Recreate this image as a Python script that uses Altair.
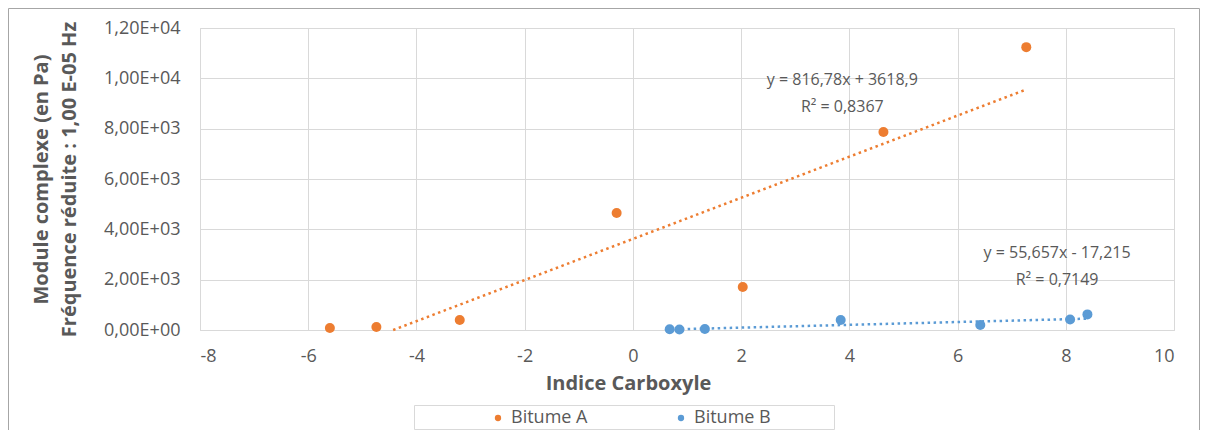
import altair as alt
import pandas as pd

# ---- data ----
series_names = ["Bitume A", "Bitume B"]
a_x = [-5.6, -4.74, -3.2, -0.30, 2.03, 4.63, 7.27]
a_y = [80, 120, 400, 4650, 1710, 7870, 11240]
b_x = [0.68, 0.86, 1.33, 3.84, 6.42, 8.08, 8.40]
b_y = [30, 20, 40, 400, 200, 420, 620]

# trendline coefficients (as printed on the chart)
a_slope, a_intercept = 816.78, 3618.9
b_slope, b_intercept = 55.657, -17.215
a_eq = ["y = 816,78x + 3618,9", "R² = 0,8367"]
b_eq = ["y = 55,657x - 17,215", "R² = 0,7149"]

x_ticks = [-8, -6, -4, -2, 0, 2, 4, 6, 8, 10]
y_ticks = [0, 2000, 4000, 6000, 8000, 10000, 12000]
y_tick_labels = ["0,00E+00", "2,00E+03", "4,00E+03", "6,00E+03",
                 "8,00E+03", "1,00E+04", "1,20E+04"]

ORANGE = "#ED7D31"
BLUE = "#5B9BD5"
GREY_TXT = "#595959"
GRID = "#D9D9D9"
FONT = "Open Sans"

points = pd.DataFrame(
    {"series": [series_names[0]] * len(a_x) + [series_names[1]] * len(b_x),
     "x": a_x + b_x, "y": a_y + b_y}
)

# trendlines: Excel clips at the y-axis minimum (0)
a_start = max(min(a_x), -a_intercept / a_slope)
trend = pd.DataFrame({
    "series": [series_names[0]] * 2 + [series_names[1]] * 2,
    "x": [a_start, max(a_x), min(b_x), max(b_x)],
    "y": [a_slope * a_start + a_intercept, a_slope * max(a_x) + a_intercept,
          b_slope * min(b_x) + b_intercept, b_slope * max(b_x) + b_intercept],
})

annot = pd.DataFrame({
    "text": a_eq + b_eq,
    "ax": [3.87, 3.87, 7.84, 7.84],
    "ay": [9930, 8860, 3060, 1990],
})

color = alt.Color(
    "series:N",
    scale=alt.Scale(domain=series_names, range=[ORANGE, BLUE]),
    legend=alt.Legend(
        title=None, orient="none", direction="horizontal",
        legendX=289, legendY=381, symbolType="circle", symbolSize=40,
        labelFont=FONT, labelFontSize=18, labelColor=GREY_TXT,
        columnPadding=84, symbolStrokeWidth=0,
    ),
)

label_expr = "[" + ",".join(f"'{l}'" for l in y_tick_labels) + "][round(datum.value/2000)]"

x_enc = alt.X(
    "x:Q",
    scale=alt.Scale(domain=[-8, 10], nice=False, zero=False),
    axis=alt.Axis(
        values=x_ticks, title="Indice Carboxyle", grid=True, gridColor=GRID,
        domainColor=GRID, ticks=False, labelPadding=17,
        labelExpr="datum.value < 0 ? '-' + abs(datum.value) : '' + datum.value",
        labelFont=FONT, labelFontSize=18, labelColor=GREY_TXT,
        titleFont=FONT, titleFontSize=20, titleFontWeight="bold",
        titleColor=GREY_TXT, titleX=428, titleY=53, titleBaseline="middle",
    ),
)
y_enc = alt.Y(
    "y:Q",
    scale=alt.Scale(domain=[0, 12000], nice=False),
    axis=alt.Axis(
        values=y_ticks, labelExpr=label_expr, grid=True, gridColor=GRID,
        domain=False, ticks=False, labelPadding=20,
        labelFont=FONT, labelFontSize=18, labelColor=GREY_TXT,
        title=["Module complexe (en Pa)", "Fréquence réduite : 1,00 E-05 Hz"],
        titleFont=FONT, titleFontSize=20, titleFontWeight="bold",
        titleColor=GREY_TXT, titleLineHeight=28, titlePadding=24,
    ),
)

one = pd.DataFrame({"k": [0]})
border = alt.Chart(one).mark_rect(fillOpacity=0, stroke="#A6A6A6", strokeWidth=1).encode(
    x=alt.value(-191.5), x2=alt.value(999.5), y=alt.value(-19.5), y2=alt.value(440)
)
legend_box = alt.Chart(one).mark_rect(fill="white", stroke=GRID, strokeWidth=1).encode(
    x=alt.value(214.5), x2=alt.value(634.5), y=alt.value(377.5), y2=alt.value(401.5)
)

lines = alt.Chart(trend).mark_line(strokeWidth=2.5, strokeDash=[2.5, 3.5]).encode(
    x=x_enc, y=y_enc, color=color, detail="series:N"
)
dots = alt.Chart(points).mark_circle(size=100, opacity=1).encode(
    x="x:Q", y="y:Q", color="series:N"
)
texts = alt.Chart(annot).mark_text(
    font=FONT, fontSize=16, color=GREY_TXT, align="center", baseline="middle"
).encode(x="ax:Q", y="ay:Q", text="text:N")

chart = alt.layer(border, legend_box, lines, dots, texts).properties(
    width=974, height=302,
    padding={"left": 192, "top": 20, "right": 26, "bottom": 100},
    autosize=alt.AutoSizeParams(type="none"),
).configure_view(stroke=None).configure(background="white")

chart.save("out.html", embed_options={"renderer": "svg", "actions": False})
